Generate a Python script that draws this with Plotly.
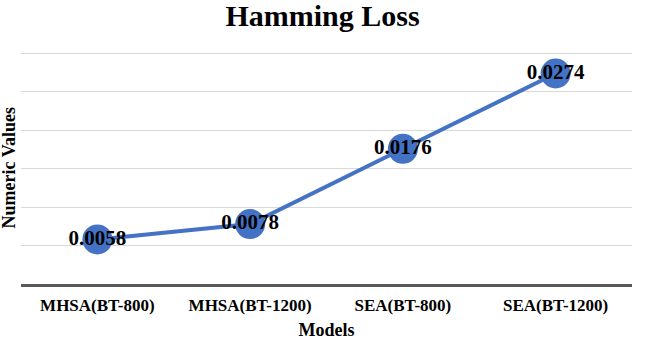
import plotly.graph_objects as go

models = ["MHSA(BT-800)", "MHSA(BT-1200)", "SEA(BT-800)", "SEA(BT-1200)"]
hamming_loss = [0.0058, 0.0078, 0.0176, 0.0274]
labels = ["0.0058", "0.0078", "0.0176", "0.0274"]

SERIF = "Liberation Serif, Times New Roman, serif"
BLUE = "#4472C4"

fig = go.Figure()
fig.add_trace(go.Scatter(
    x=models, y=hamming_loss, mode="lines+markers+text",
    text=labels, textposition="middle center",
    textfont=dict(family=SERIF, size=21, color="black", weight="bold"),
    line=dict(color=BLUE, width=4),
    marker=dict(color=BLUE, size=30),
    cliponaxis=False, showlegend=False,
))

fig.update_layout(
    width=645, height=340,
    margin=dict(l=21, r=13, t=52, b=56, autoexpand=False),
    paper_bgcolor="white", plot_bgcolor="white",
    title=dict(text="<b>Hamming Loss</b>", x=0.5, xanchor="center",
               y=1 - 15 / 340, yanchor="middle", yref="container",
               font=dict(family=SERIF, size=30, color="black")),
    xaxis=dict(
        range=[-0.5, 3.5], automargin=False,
        showgrid=False, showline=True, linecolor="#595959", linewidth=3,
        ticks="outside", ticklen=4, tickcolor="rgba(0,0,0,0)",
        tickfont=dict(family=SERIF, size=17, color="black", weight="bold"),
        title=dict(text="<b>Models</b>", standoff=10,
                   font=dict(family=SERIF, size=18, color="black")),
    ),
    yaxis=dict(
        range=[0, 0.0302], tick0=0, dtick=0.005, showticklabels=False,
        automargin=False,
        showgrid=True, gridcolor="#d9d9d9", gridwidth=1,
        zeroline=False, showline=False, ticks="",
    ),
    annotations=[dict(
        text="<b>Numeric Values</b>", textangle=-90,
        xref="paper", yref="paper", x=0, y=0.5, xanchor="center", yanchor="middle",
        xshift=-12.5, showarrow=False,
        font=dict(family=SERIF, size=18, color="black"),
    )],
)

fig.write_html("out.html", config={"displayModeBar": False},
               post_script="document.body.style.margin='0';")
